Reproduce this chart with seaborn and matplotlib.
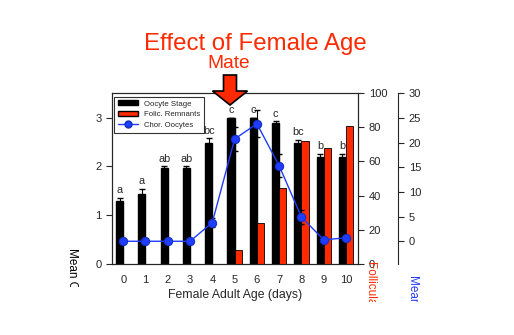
import numpy as np
import pandas as pd
import matplotlib
matplotlib.use("Agg")
import matplotlib.pyplot as plt
import seaborn as sns
from matplotlib.patches import FancyArrow, Patch
from matplotlib.lines import Line2D
from matplotlib.transforms import Bbox

# values
days = [0, 1, 2, 3, 4, 5, 6, 7, 8, 9, 10]
oocyte_stage = [1.28, 1.44, 1.97, 1.97, 2.48, 3.0, 3.0, 2.88, 2.48, 2.2, 2.2]
oocyte_err = [0.08, 0.10, 0.03, 0.03, 0.10, 0.0, 0.0, 0.05, 0.07, 0.06, 0.06]
letters = ["a", "a", "ab", "ab", "bc", "c", "c", "c", "bc", "b", "b"]
remnants = [0, 0, 0, 0, 0, 8, 24, 44.5, 72, 68, 80.5]
chor = [0, 0, 0, 0, 3.8, 20.7, 23.8, 15.3, 4.9, 0.3, 0.7]
chor_err = [0, 0, 0, 0, 1.0, 2.5, 2.7, 2.3, 1.5, 0.3, 0.3]

RED = "#ff2a00"
BLUE = "#1f3cff"
W, H = 514, 335

sns.set_style("ticks")
plt.rcParams["font.family"] = ["Liberation Sans", "DejaVu Sans"]

fig = plt.figure(figsize=(5.14, 3.35), dpi=100)
ax = fig.add_axes([0.218, 0.212, 0.479, 0.510])

df = pd.DataFrame({"day": days, "stage": oocyte_stage, "err": oocyte_err,
                   "rem": remnants, "chor": chor, "chor_err": chor_err})
off = 0.16
w = 0.32

# black bars: oocyte stage
ax.bar(df["day"] - off, df["stage"], width=w, color="black", edgecolor="black", zorder=2)
ax.errorbar(df["day"] - off, df["stage"], yerr=df["err"], fmt="none",
            ecolor="black", elinewidth=0.8, capsize=2, zorder=3)
for d, s, e, t in zip(days, oocyte_stage, oocyte_err, letters):
    ax.text(d - off, s + e + 0.05, t, ha="center", va="bottom", fontsize=7.8, zorder=2)

ax.set_xlim(-0.5, 10.55)
ax.set_ylim(0, 3.5)
ax.set_xticks(days)
ax.set_yticks([0, 1, 2, 3])
ax.tick_params(axis="x", length=0, labelsize=8, pad=8)
ax.tick_params(axis="y", length=4, width=0.8, labelsize=8, direction="out")
ax.set_xlabel("Female Adult Age (days)", fontsize=8.8, labelpad=3)
for s in ax.spines.values():
    s.set_linewidth(0.8)

# red bars: follicular remnants on first right axis
ax2 = ax.twinx()
ax2.bar(df["day"] + off, df["rem"], width=w, color=RED, edgecolor="black",
        linewidth=0.6, zorder=2)
ax2.set_ylim(0, 100)
ax2.set_yticks([0, 20, 40, 60, 80, 100])
ax2.tick_params(axis="y", length=4, width=0.8, labelsize=8, direction="out")

# blue line: chorionated oocytes on second right axis
ax3 = ax.twinx()
ax3.spines["right"].set_position(("axes", 1.163))
for k in ["left", "top", "bottom"]:
    ax3.spines[k].set_visible(False)
ax3.spines["right"].set_linewidth(0.8)
ax3.errorbar(df["day"], df["chor"], yerr=df["chor_err"], fmt="none",
             ecolor="black", elinewidth=0.8, capsize=2, zorder=3)
sns.lineplot(data=df, x="day", y="chor", ax=ax3, color=BLUE, linewidth=1,
             marker="o", markersize=6, markerfacecolor=BLUE,
             markeredgecolor="#1030c0", zorder=4)
ax3.set_ylim(-4.6, 30)
ax3.set_yticks([0, 5, 10, 15, 20, 25, 30])
ax3.set_xlabel("")
ax3.set_ylabel("")
ax3.tick_params(axis="y", length=4, width=0.8, labelsize=8, direction="out")

# legend
handles = [Patch(facecolor="black", edgecolor="black"),
           Patch(facecolor=RED, edgecolor="black"),
           Line2D([0], [0], color=BLUE, marker="o", markersize=5,
                  markerfacecolor=BLUE, markeredgecolor="#1030c0", linewidth=1)]
leg = ax3.legend(handles, ["Oocyte Stage", "Folic. Remnants", "Chor. Oocytes"],
                 loc="upper left", bbox_to_anchor=(0.008, 0.98), fontsize=5.6,
                 frameon=True, fancybox=False, edgecolor="black",
                 handlelength=2.6, handleheight=0.6, borderpad=0.5,
                 labelspacing=0.45, borderaxespad=0)
leg.get_frame().set_linewidth(0.8)

# axis labels, clipped by the slide frame as in the original
def side_label(x, y, text, color, clip_y):
    t = fig.text(x / W, 1 - y / H, text, rotation=270, ha="center", va="top",
                 fontsize=8.5, color=color)
    t.set_clip_box(Bbox.from_extents(0, H - clip_y, W, H))
    t.set_clip_on(True)
    return t

side_label(72, 248, "Mean Oocyte Stage", "black", 287)
side_label(371, 261, "Follicular Remnants (%)", RED, 302)
side_label(413, 275, "Mean Chorionated Oocytes", BLUE, 302)

# titles
fig.text(255 / W, 1 - 50 / H, "Effect of Female Age", ha="center",
         va="baseline", fontsize=17.3, color=RED)
fig.text(229 / W, 1 - 68 / H, "Mate", ha="center", va="baseline",
         fontsize=13.8, color=RED)

# arrow pointing at day 5
arrow = FancyArrow(230 / W, 1 - 75 / H, 0, -(30 / H), width=13 / W,
                   head_width=35 / W, head_length=14 / H,
                   length_includes_head=True, transform=fig.transFigure,
                   facecolor=RED, edgecolor="black", linewidth=1.2, zorder=10)
fig.patches.append(arrow)

fig.savefig("out.png", dpi=100)
